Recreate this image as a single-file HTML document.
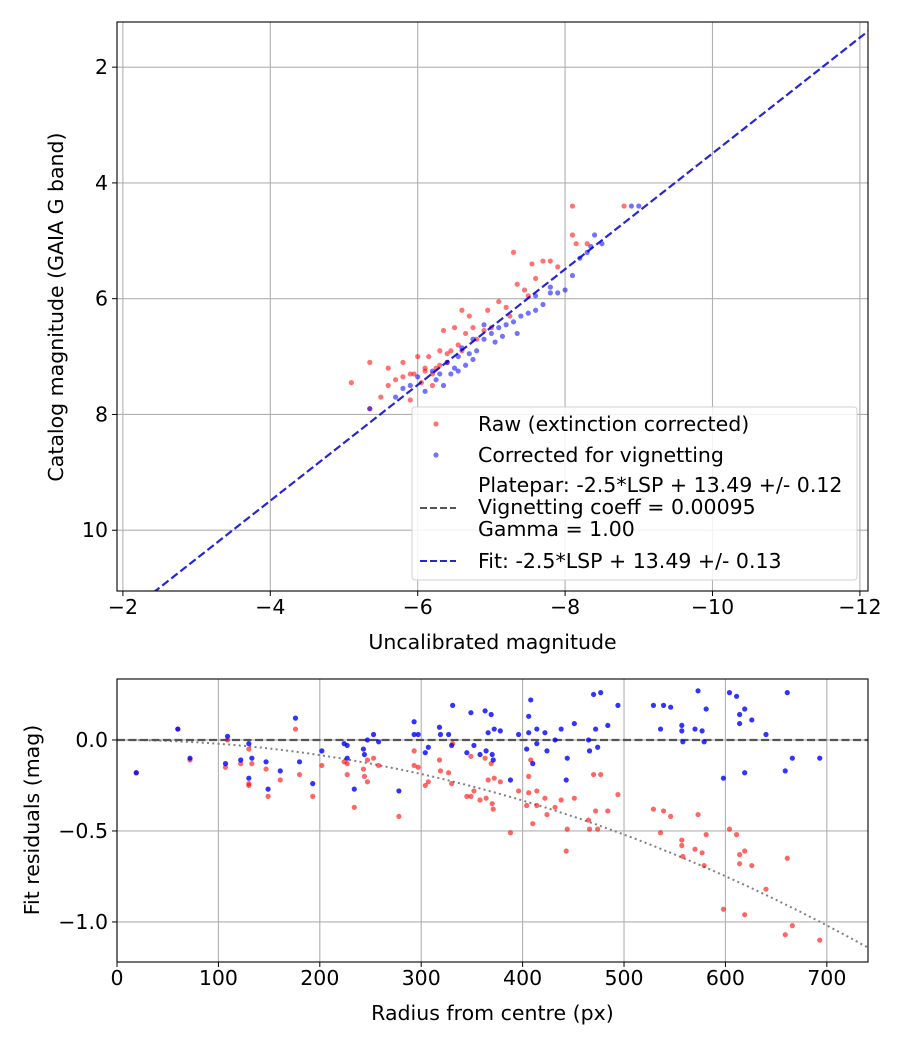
<!DOCTYPE html>
<html><head><meta charset="utf-8">
<style>
body{margin:0;background:#fff;}
svg{display:block;font-family:"DejaVu Sans","Liberation Sans",sans-serif;}
svg text{font-size:20.5px;}
</style></head>
<body>
<svg id="c" width="900" height="1050" xmlns="http://www.w3.org/2000/svg"></svg>
<script>
// ---- Top panel data ----
const redX=[-5.1,-5.35,-5.35,-5.5,-5.6,-5.6,-5.7,-5.8,-5.9,-6.0,-5.95,-6.1,-6.15,-6.2,-6.3,-6.3,-6.35,-6.45,-6.5,-6.55,-6.6,-6.65,-6.7,-6.75,-6.8,-6.9,-7.0,-7.1,-7.2,-7.25,-7.3,-7.35,-7.45,-7.5,-7.55,-7.6,-7.7,-7.8,-7.9,-8.1,-8.1,-8.15,-8.3,-8.8,-6.05,-6.4,-6.2,-5.9,-6.6,-6.95,-5.8,-6.25,-6.1,-6.4];
const redY=[7.45,7.1,7.9,7.7,7.5,7.2,7.4,7.1,7.3,7.0,7.3,7.2,7.0,7.3,6.9,7.15,6.55,6.9,6.5,6.8,6.2,6.6,6.3,6.5,6.7,6.55,6.5,6.05,6.15,6.3,5.2,5.75,5.85,5.95,5.4,5.65,5.35,5.35,5.45,4.4,4.9,5.05,5.05,4.4,7.45,7.1,7.5,7.75,6.9,6.2,7.35,7.2,7.25,6.95];
const blueX=[-5.35,-5.8,-5.9,-6.0,-6.1,-6.2,-6.3,-6.4,-6.5,-6.55,-6.6,-6.7,-6.75,-6.8,-6.9,-7.0,-7.1,-7.2,-7.3,-7.4,-7.5,-7.6,-7.7,-7.8,-7.9,-8.0,-8.1,-8.3,-8.4,-8.5,-8.9,-9.0,-6.45,-6.65,-7.15,-7.6,-8.2,-8.35,-6.35,-5.7,-6.9,-7.35,-7.8,-6.55,-6.75,-7.05,-6.25];
const blueY=[7.9,7.55,7.5,7.35,7.6,7.25,7.3,7.1,7.2,7.0,6.85,6.95,6.7,6.9,6.7,6.6,6.5,6.45,6.4,6.3,6.25,6.2,6.1,5.9,5.9,5.85,5.6,5.2,4.9,5.05,4.4,4.4,7.3,7.15,6.65,5.95,5.3,5.1,7.5,7.7,6.45,6.6,5.8,7.25,7.05,6.75,7.4];
const topXTicks=[-2,-4,-6,-8,-10,-12];
const topYTicks=[2,4,6,8,10];
const fitOffset=13.49;
// ---- Bottom panel data ----
const bR=[19,60,72,109,107,122,130,130,133,147,149,161,176,180,193,202,224,227,227,234,243,244,247,253,258,278,293,293,297,307,304,318,319,327,331,330,345,349,352,358,363,364,366,369,370,372,378,371,388,396,406,408,406,404,410,414,414,422,424,432,438,444,443,451,465,466,470,477,472,474,484,494,529,536,539,546,557,557,558,570,573,577,579,581,598,604,611,614,614,619,619,626,640,659,661,666,693];
const bV=[-0.18,0.06,-0.1,0.02,-0.13,-0.11,-0.02,-0.21,-0.1,-0.12,-0.27,-0.17,0.12,-0.12,-0.24,-0.06,-0.02,-0.03,-0.1,-0.27,-0.05,-0.08,0.0,0.03,-0.01,-0.28,0.1,0.03,0.03,-0.04,-0.07,0.07,0.03,0.03,0.19,-0.03,-0.07,0.15,-0.03,-0.08,0.16,-0.06,0.04,0.14,-0.08,0.06,0.05,-0.11,-0.22,0.03,0.13,0.22,0.04,-0.05,-0.13,0.06,-0.02,0.04,-0.06,0.0,0.06,-0.1,-0.22,0.09,0.0,-0.06,0.25,0.26,0.06,-0.04,0.08,0.19,0.19,0.06,0.19,0.18,0.08,0.05,-0.01,0.06,0.27,0.05,-0.01,0.17,-0.21,0.26,0.24,0.14,0.09,0.17,-0.18,0.11,0.03,-0.17,0.26,-0.1,-0.1];
const rR=[19,60,72,109,107,122,130,130,130,133,147,149,161,176,180,193,202,224,227,227,234,243,244,247,247,253,258,278,293,293,297,304,307,318,319,327,330,331,345,349,349,352,358,363,364,366,369,370,371,372,378,388,396,404,406,406,408,410,414,414,422,424,432,438,443,444,451,465,466,470,472,474,477,484,494,529,536,539,546,557,557,558,570,573,577,579,581,598,604,611,614,614,619,619,626,640,659,661,666,693];
const rV=[-0.18,0.06,-0.11,0.0,-0.15,-0.13,-0.05,-0.24,-0.25,-0.13,-0.16,-0.31,-0.22,0.06,-0.19,-0.31,-0.14,-0.12,-0.13,-0.19,-0.37,-0.16,-0.2,-0.23,-0.11,-0.1,-0.14,-0.42,-0.06,-0.14,-0.15,-0.25,-0.23,-0.11,-0.17,-0.18,-0.24,-0.02,-0.31,-0.31,-0.09,-0.28,-0.33,-0.1,-0.32,-0.22,-0.13,-0.35,-0.38,-0.21,-0.23,-0.51,-0.28,-0.36,-0.2,-0.29,-0.11,-0.46,-0.28,-0.36,-0.32,-0.41,-0.37,-0.33,-0.61,-0.49,-0.32,-0.44,-0.49,-0.19,-0.39,-0.49,-0.19,-0.39,-0.3,-0.38,-0.51,-0.39,-0.42,-0.55,-0.58,-0.64,-0.6,-0.41,-0.62,-0.69,-0.52,-0.93,-0.49,-0.52,-0.63,-0.68,-0.61,-0.96,-0.69,-0.82,-1.07,-0.65,-1.02,-1.1];
const botXTicks=[0,100,200,300,400,500,600,700];
const botYTicks=[0.0,-0.5,-1.0];
const botYLabels=["0.0","\u22120.5","\u22121.0"];
const vignK=2.08e-6;

const NS="http://www.w3.org/2000/svg";
const svg=document.getElementById('c');
function mk(tag,attrs,parent){const e=document.createElementNS(NS,tag);for(const k in attrs)e.setAttribute(k,attrs[k]);(parent||svg).appendChild(e);return e;}
function fmt(v){return (v<0?"\u2212":"")+Math.abs(v);}

// ---- Top axes ----
const T={l:117,r:868,t:22,b:591,x0:-1.92,x1:-12.11,y0:1.22,y1:11.05};
const tx=v=>T.l+(v-T.x0)/(T.x1-T.x0)*(T.r-T.l);
const ty=v=>T.t+(v-T.y0)/(T.y1-T.y0)*(T.b-T.t);
const gTop=mk('g',{});


const defs=mk('defs',{});
const cp1=mk('clipPath',{id:'cp1'},defs);mk('rect',{x:T.l,y:T.t,width:T.r-T.l,height:T.b-T.t},cp1);
const cp2=mk('clipPath',{id:'cp2'},defs);mk('rect',{x:117,y:679,width:751,height:283},cp2);
topXTicks.forEach(v=>{const x=tx(v);
 const g=mk('line',{x1:x,x2:x,y1:T.t,y2:T.b,stroke:'#b0b0b0','stroke-width':1.1},gTop);
 
 mk('line',{x1:x,x2:x,y1:T.b,y2:T.b+5,stroke:'#000'},gTop);
 const t=mk('text',{x:x,y:T.b+23,'text-anchor':'middle'},gTop);t.textContent=fmt(v);
 });
topYTicks.forEach(v=>{const y=ty(v);
 const g=mk('line',{x1:T.l,x2:T.r,y1:y,y2:y,stroke:'#b0b0b0','stroke-width':1.1},gTop);
 
 mk('line',{x1:T.l-5,x2:T.l,y1:y,y2:y,stroke:'#000'},gTop);
 const t=mk('text',{x:T.l-9,y:y+7,'text-anchor':'end'},gTop);t.textContent=v;
 });
const pTop=mk('g',{'clip-path':'url(#cp1)'},gTop);
redX.forEach((v,i)=>{const c=mk('circle',{cx:tx(v),cy:ty(redY[i]),r:2.6,fill:'#ff0000','fill-opacity':0.55},pTop);
 });
blueX.forEach((v,i)=>{const c=mk('circle',{cx:tx(v),cy:ty(blueY[i]),r:2.6,fill:'#0000ff','fill-opacity':0.55},pTop);
 });
const fx0=T.x0,fx1=T.x1;
const fl=mk('line',{x1:tx(fx0),y1:ty(fx0+fitOffset),x2:tx(fx1),y2:ty(fx1+fitOffset),stroke:'#0000cc','stroke-opacity':0.85,'stroke-width':2.2,'stroke-dasharray':'8,3.5'},pTop);

mk('rect',{x:T.l,y:T.t,width:T.r-T.l,height:T.b-T.t,fill:'none',stroke:'#000','stroke-width':1.1},gTop);
let t=mk('text',{x:(T.l+T.r)/2,y:649,'text-anchor':'middle'},gTop);t.textContent='Uncalibrated magnitude';

t=mk('text',{x:0,y:0,'text-anchor':'middle',transform:'translate(63,307) rotate(-90)'},gTop);t.textContent='Catalog magnitude (GAIA G band)';


// legend
const lg=mk('g',{});

mk('rect',{x:412,y:407,width:445,height:173,rx:3,fill:'#fff','fill-opacity':0.85,stroke:'#d0d0d0'},lg);
mk('circle',{cx:436,cy:424,r:2.6,fill:'#ff0000','fill-opacity':0.55},lg);
mk('circle',{cx:436,cy:455,r:2.6,fill:'#0000ff','fill-opacity':0.55},lg);
mk('line',{x1:420,x2:456,y1:508,y2:508,stroke:'#555','stroke-width':2,'stroke-dasharray':'7,3'},lg);
mk('line',{x1:420,x2:456,y1:561,y2:561,stroke:'#0000cc','stroke-opacity':0.85,'stroke-width':2,'stroke-dasharray':'7,3'},lg);
[['Raw (extinction corrected)',431,'legend-raw'],['Corrected for vignetting',462,'legend-corrected'],['Platepar: -2.5*LSP + 13.49 +/- 0.12',492,'legend-platepar'],['Vignetting coeff = 0.00095',514,'legend-vignetting'],['Gamma = 1.00',536,'legend-gamma'],['Fit: -2.5*LSP + 13.49 +/- 0.13',568,'legend-fit']].forEach(a=>{
 const e=mk('text',{x:478,y:a[1]},lg);e.textContent=a[0];
 });

// ---- Bottom axes ----
const B={l:117,r:868,t:679,b:962,x0:0,x1:740.6,y0:0.335,y1:-1.22};
const bx=v=>B.l+(v-B.x0)/(B.x1-B.x0)*(B.r-B.l);
const by=v=>B.t+(v-B.y0)/(B.y1-B.y0)*(B.b-B.t);
const gBot=mk('g',{});

botXTicks.forEach(v=>{const x=bx(v);
 const g=mk('line',{x1:x,x2:x,y1:B.t,y2:B.b,stroke:'#b0b0b0','stroke-width':1.1},gBot);
 
 mk('line',{x1:x,x2:x,y1:B.b,y2:B.b+5,stroke:'#000'},gBot);
 const e=mk('text',{x:x,y:B.b+23,'text-anchor':'middle'},gBot);e.textContent=v;
 });
botYTicks.forEach((v,i)=>{const y=by(v);
 const g=mk('line',{x1:B.l,x2:B.r,y1:y,y2:y,stroke:'#b0b0b0','stroke-width':1.1},gBot);
 
 mk('line',{x1:B.l-5,x2:B.l,y1:y,y2:y,stroke:'#000'},gBot);
 const e=mk('text',{x:B.l-9,y:y+7,'text-anchor':'end'},gBot);e.textContent=botYLabels[i];
 });
const pBot=mk('g',{'clip-path':'url(#cp2)'},gBot);
let d='';for(let r=0;r<=741;r+=5){d+=(r?'L':'M')+bx(r).toFixed(1)+','+by(-vignK*r*r).toFixed(1);}
const vl=mk('path',{d:d,fill:'none',stroke:'#808080','stroke-width':2,'stroke-dasharray':'2,3.3'},pBot);

const zl=mk('line',{x1:B.l,x2:B.r,y1:by(0),y2:by(0),stroke:'#555','stroke-width':2.2,'stroke-dasharray':'8,3.5'},pBot);

rR.forEach((v,i)=>{const c=mk('circle',{cx:bx(v),cy:by(rV[i]),r:2.6,fill:'#ff0000','fill-opacity':0.6},pBot);
 });
bR.forEach((v,i)=>{const c=mk('circle',{cx:bx(v),cy:by(bV[i]),r:2.6,fill:'#0000ff','fill-opacity':0.8},pBot);
 });
mk('rect',{x:B.l,y:B.t,width:B.r-B.l,height:B.b-B.t,fill:'none',stroke:'#000','stroke-width':1.1},gBot);
t=mk('text',{x:(B.l+B.r)/2,y:1020,'text-anchor':'middle'},gBot);t.textContent='Radius from centre (px)';

t=mk('text',{x:0,y:0,'text-anchor':'middle',transform:'translate(39,820) rotate(-90)'},gBot);t.textContent='Fit residuals (mag)';

</script>
</body></html>
